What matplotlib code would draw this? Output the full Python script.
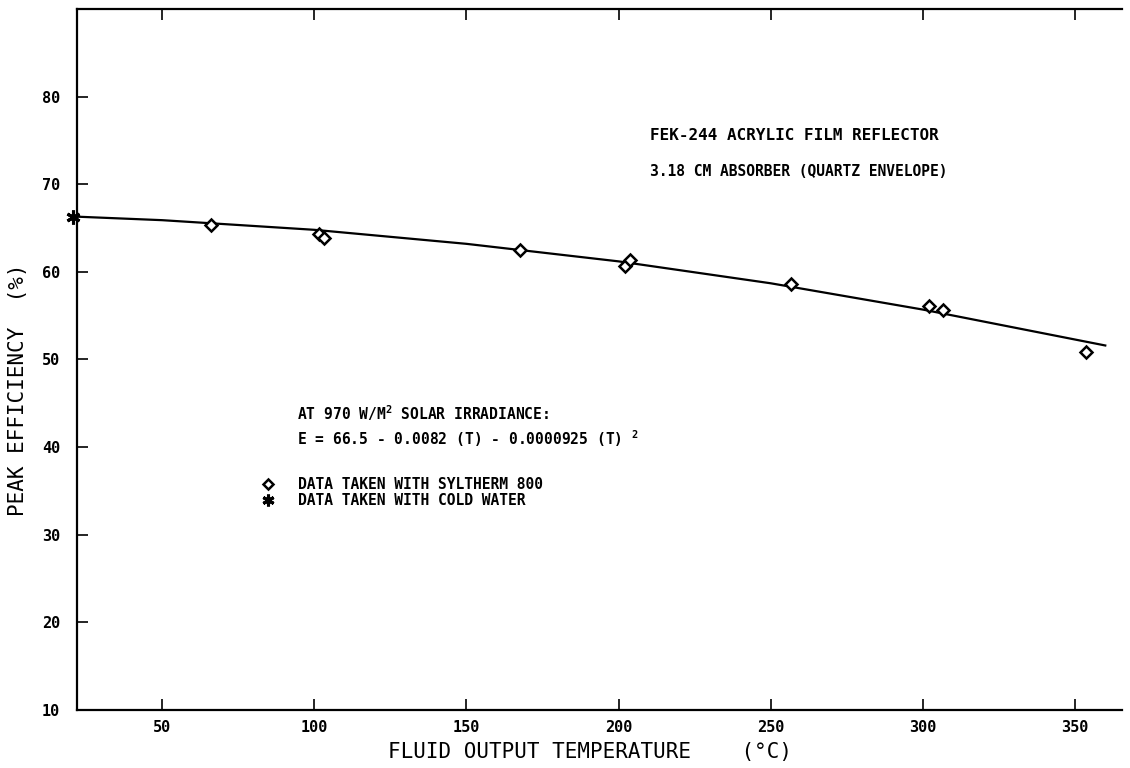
import numpy as np
import matplotlib
matplotlib.use("Agg")
import matplotlib.pyplot as plt

# data
syltherm_temp = [66.2, 101.6, 103.3, 167.6, 202.2, 203.9, 256.6, 301.9, 306.5, 353.8]
syltherm_eff = [65.3, 64.3, 63.9, 62.45, 60.7, 61.3, 58.6, 56.1, 55.6, 50.9]
cold_temp = [20.8]
cold_eff = [66.25]
fit_temp = [22, 50, 100, 150, 200, 250, 300, 360]
fit_eff = [66.3, 65.9, 64.8, 63.2, 61.2, 58.7, 55.7, 51.6]
x_ticks = [50, 100, 150, 200, 250, 300, 350]
y_ticks = [10, 20, 30, 40, 50, 60, 70, 80]

plt.rcParams['font.family'] = ['DejaVu Sans Mono', 'DejaVu Sans']
plt.rcParams['mathtext.fontset'] = 'custom'
plt.rcParams['mathtext.rm'] = 'DejaVu Sans Mono:bold'
plt.rcParams['mathtext.default'] = 'rm'

W, H = 1130, 768
fig = plt.figure(figsize=(W / 100, H / 100), dpi=100)

def fx(px):
    return px / W

def fy(py):
    return 1 - py / H

ax = fig.add_axes([fx(77), fy(710), (1122 - 77) / W, (710 - 9) / H])

ax.plot(fit_temp, fit_eff, color='black', lw=1.6, zorder=2)
ax.plot(syltherm_temp, syltherm_eff, linestyle='none', marker='D', ms=6.5,
        mfc='white', mec='black', mew=1.8, zorder=3,
        label='DATA TAKEN WITH SYLTHERM 800')
ax.plot(cold_temp, cold_eff, linestyle='none', marker=(6, 2, 0), ms=10,
        mec='black', mew=2.2, zorder=3, clip_on=False,
        label='DATA TAKEN WITH COLD WATER')

ax.set_xlim(22, 365.5)
ax.set_ylim(10, 90)
ax.set_xticks(x_ticks)
ax.set_yticks(y_ticks)
ax.tick_params(axis='both', direction='in', length=8, width=1.2,
               labelsize=11, top=True, right=False)
ax.tick_params(axis='x', pad=7)
ax.tick_params(axis='y', pad=12)
for lab in ax.get_xticklabels() + ax.get_yticklabels():
    lab.set_fontweight('bold')

for side in ['left', 'bottom', 'top']:
    ax.spines[side].set_linewidth(1.6)
ax.spines['right'].set_visible(False)

txt = dict(fontweight='bold', va='center', ha='left')
fig.text(fx(650), fy(136), 'FEK-244 ACRYLIC FILM REFLECTOR', fontsize=11.5, **txt)
fig.text(fx(650), fy(172), '3.18 CM ABSORBER (QUARTZ ENVELOPE)', fontsize=10.5, **txt)
fig.text(fx(297), fy(413), 'AT 970 W/M$^{2}$ SOLAR IRRADIANCE:', fontsize=10.5, **txt)
fig.text(fx(297), fy(439), 'E = 66.5 - 0.0082 (T) - 0.0000925 (T) $^{2}$',
         fontsize=10.5, **txt)

ax.legend(loc='upper left', bbox_to_anchor=(fx(261), fy(477)),
          bbox_transform=fig.transFigure, frameon=False,
          prop={'family': 'DejaVu Sans Mono', 'weight': 'bold', 'size': 10.5},
          borderpad=0, borderaxespad=0, handlelength=1.0,
          handletextpad=1.55, labelspacing=0.05, markerscale=0.85)

fig.text(fx(590), fy(752), 'FLUID OUTPUT TEMPERATURE    (°C)',
         fontsize=15, ha='center', va='center')
fig.text(fx(18), fy(390), 'PEAK EFFICIENCY  (%)', fontsize=15,
         rotation=90, ha='center', va='center')

fig.savefig('out.png', dpi=100)
plt.close(fig)
